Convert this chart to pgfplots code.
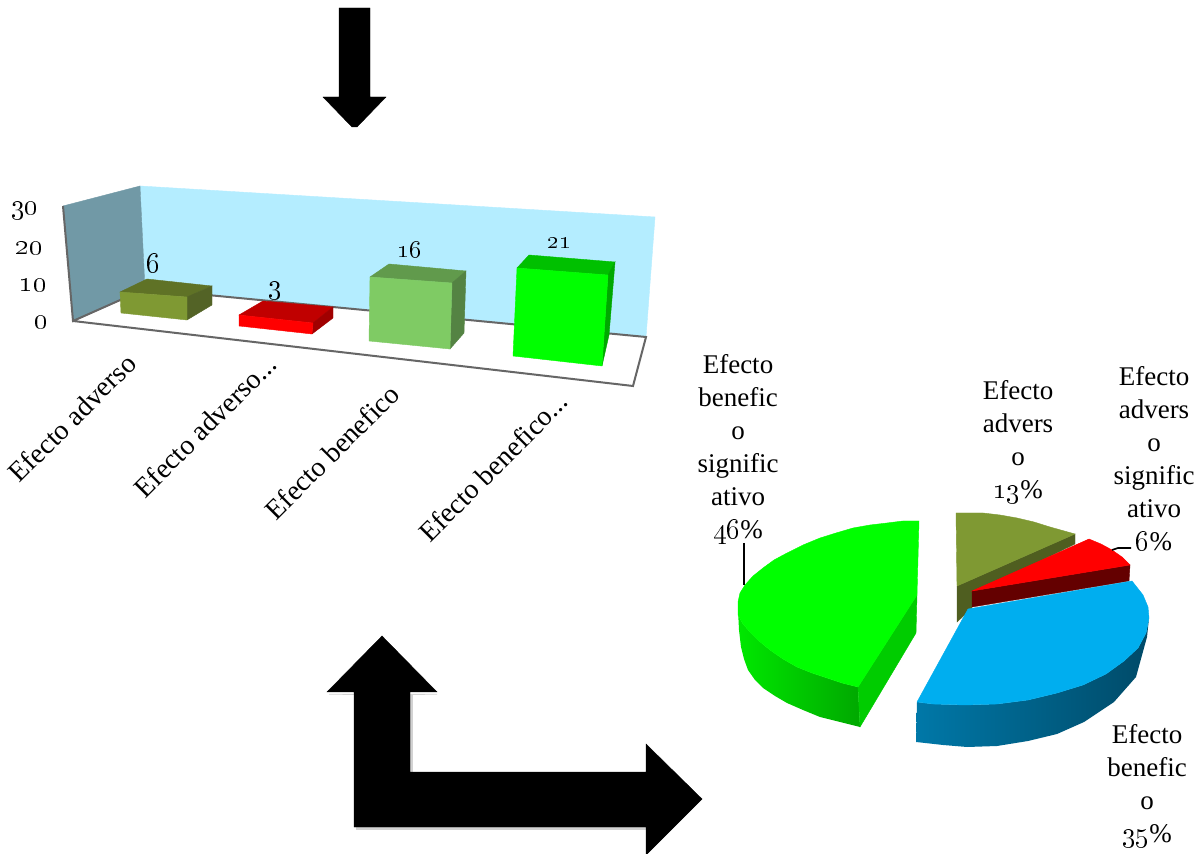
\documentclass[border=0pt]{standalone}
\usepackage{pgfplots}
\usepackage{fontspec}
\setmainfont{Liberation Serif}
\pgfplotsset{compat=1.18}

\definecolor{wallback}{HTML}{B4EDFF}
\definecolor{wallside}{HTML}{7199A6}
\definecolor{edgegray}{HTML}{666666}
\definecolor{olive}{HTML}{7F9933}
\definecolor{olivetop}{HTML}{5F7226}
\definecolor{oliveside}{HTML}{536326}
\definecolor{redtop}{HTML}{C00000}
\definecolor{redside}{HTML}{A00000}
\definecolor{lgreen}{HTML}{7FCB64}
\definecolor{lgreentop}{HTML}{619A4C}
\definecolor{lgreenside}{HTML}{548343}
\definecolor{gtop}{HTML}{00C000}
\definecolor{gside}{HTML}{00A800}
\definecolor{piegreenleft}{HTML}{00E800}
\definecolor{piegreenflat}{HTML}{00CC00}
\definecolor{pieolive}{HTML}{4F5E20}
\definecolor{piered}{HTML}{640000}
\definecolor{pieblue}{HTML}{00AEEF}
\definecolor{blueleft}{HTML}{0078A8}
\definecolor{bluemid}{HTML}{003F5A}
\definecolor{blueright}{HTML}{004A68}

% every shape is a polygon in picture pixels
\newcommand\poly[2]{\addplot[draw=#1,line width=0.2pt,fill=#1] coordinates {#2} --cycle;}
% old style figures from the TS1 Latin Modern font
\newcommand\onum[1]{{\fontencoding{TS1}\fontfamily{lmr}\selectfont #1}}
\newcommand\lab[3]{\node[font=\fontsize{13.5}{16.5}\selectfont,align=center,inner sep=0pt] at (axis cs:#1,#2) {#3};}
\newcommand\num[4]{\node[font=\fontsize{#3}{#3}\selectfont,inner sep=0pt] at (axis cs:#1,#2) {\onum{#4}};}
\newcommand\tick[3]{\node[rotate=45,font=\fontsize{14}{16}\selectfont,inner sep=0pt] at (axis cs:#1,#2) {#3};}

\begin{document}
\begin{tikzpicture}
\begin{axis}[
  scale only axis, width=602pt, height=427pt,
  xmin=0, xmax=1204, ymin=0, ymax=854, y dir=reverse,
  hide axis, no markers,
]
\addplot[draw=none,fill=white] coordinates {(0,0)(1204,0)(1204,854)(0,854)} --cycle;

% arrows
\poly{black}{(339,8)(370,8)(370,97)(386,97)(357,127)(352,127)(323,97)(339,97)}
\poly{gray!35}{(329,694)(437,694)(412,694)(412,774)(646,774)(646,829)(356,829)(356,694)}
\poly{black}{(382,636)(437,692)(410,692)(410,772)(646,772)(646,744)(702,799)(646,855)(646,827)(354,827)(354,692)(327,692)}

% bar chart walls and floor
\poly{wallback}{(140,186)(655,217)(646,337)(145,289)}
\poly{wallside}{(63,206)(140,186)(145,289)(73,321)}
\poly{white}{(73,321)(145,289)(646,337)(634,386)}
\addplot[edgegray,line width=1pt] coordinates {(63,206)(73,321)(145,289)(646,337)(633,386)(73,321)};

% bar 1, value 6
\poly{olivetop}{(120,292)(147,279)(212,286)(187,297)}
\poly{oliveside}{(187,297)(212,286)(212,305)(187,320)}
\poly{olive}{(120,292)(187,297)(187,320)(121,313)}
% bar 2, value 3
\poly{redtop}{(239,315)(263,301)(333,307)(313,323)}
\poly{redside}{(313,323)(333,307)(333,318)(312,334)}
\poly{red}{(239,315)(313,323)(312,334)(239,326)}
% bar 3, value 16
\poly{lgreentop}{(370,277)(389,264)(466,271)(452,283)}
\poly{lgreenside}{(452,283)(466,271)(464,333)(450,349)}
\poly{lgreen}{(370,277)(452,283)(450,349)(369,341)}
% bar 4, value 21
\poly{gtop}{(517,268)(529,255)(615,262)(608,275)}
\poly{gside}{(608,275)(615,262)(609,335)(602,366)}
\poly{green}{(517,268)(608,275)(602,366)(513,356)}

% bar chart labels
\num{25}{211}{14.5}{30}
\num{29}{248}{14.5}{20}
\num{33}{285}{14.5}{10}
\num{41}{322}{14.5}{0}
\num{153}{263}{15}{6}
\num{275}{291}{15}{3}
\num{409}{250}{13}{16}
\num{559}{243}{12}{21}
\tick{72}{418}{Efecto adverso}
\tick{205}{426}{Efecto adverso...}
\tick{332}{452}{Efecto benefico}
\tick{493}{467}{Efecto benefico...}

% pie, 46 percent slice
\addplot[draw=none,left color=piegreenleft,right color=gside] coordinates {(738,610)(739,630)(741,647)(744,659)(748,670)(755,680)(763,688)(775,696)(787,703)(803,710)(820,717)(840,722)(860,727)(858,687)(842,683)(827,678)(812,673)(797,667)(783,659)(770,650)(759,641)(750,632)(743,624)(738,615)} --cycle;
\poly{piegreenflat}{(858,687)(917,595)(916,633)(860,727)}
\poly{green}{(919,521)(903,521)(887,523)(870,525)(853,528)(836,533)(820,538)(803,545)(787,553)(774,560)(763,568)(753,576)(745,585)(740,593)(738,602)(738,610)(738,615)(743,624)(750,632)(759,641)(770,650)(783,659)(797,667)(812,673)(827,678)(842,683)(858,687)(917,595)}
% pie, 13 percent slice
\poly{pieolive}{(957,586)(1075,534)(1075,544)(972,594)(972,608)(957,622)}
\poly{olive}{(956,513)(970,513)(983,513)(1000,515)(1017,518)(1034,522)(1050,527)(1075,534)(957,586)}
% pie, 6 percent slice
\poly{piered}{(972,591)(1130,565)(1129,581)(972,607)}
\poly{red}{(972,591)(1089,539)(1101,544)(1112,550)(1122,557)(1130,565)}
% pie, 35 percent slice
\addplot[draw=none,left color=blueleft,middle color=bluemid,right color=blueright] coordinates {(917,702)(916,742)(943,745)(967,747)(997,746)(1028,741)(1057,734)(1084,722)(1114,702)(1136,677)(1147,637)(1149,618)(1146,633)(1138,648)(1124,661)(1106,674)(1083,685)(1057,693)(1028,700)(997,704)(965,705)(933,704)} --cycle;
\poly{pieblue}{(968,609)(1132,581)(1143,595)(1148,607)(1149,618)(1146,633)(1138,648)(1124,661)(1106,674)(1083,685)(1057,693)(1028,700)(997,704)(965,705)(933,704)(917,702)}

% leader lines
\addplot[black,line width=0.8pt] coordinates {(744,543)(744,585)};
\addplot[black,line width=0.8pt] coordinates {(1112,550)(1118,548)(1131,548)};

% pie labels
\lab{738}{449}{Efecto\\benefic\\o\\signific\\ativo\\\onum{46}\%}
\lab{1018}{442}{Efecto\\advers\\o\\\onum{13}\%}
\lab{1154}{459}{Efecto\\advers\\o\\signific\\ativo\\\onum{6}\%}
\lab{1147}{786}{Efecto\\benefic\\o\\\onum{35}\%}
\end{axis}
\end{tikzpicture}
\end{document}
